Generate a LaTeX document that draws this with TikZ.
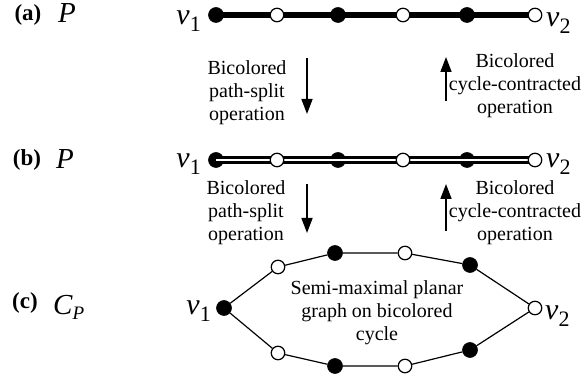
\documentclass[tikz,border=0pt]{standalone}
\usepackage{fontspec}
\setmainfont{Liberation Serif}
\usetikzlibrary{arrows.meta}
\pgfdeclarelayer{back}
\pgfdeclarelayer{mid}
\pgfsetlayers{back,mid,main}
\newcommand{\vlab}[1]{{\fontsize{30}{30}\selectfont\itshape v}\raisebox{-7pt}{\fontsize{22}{22}\selectfont #1}}
\begin{document}
\begin{tikzpicture}[x=1pt,y=-1pt,
  bn/.style={circle,fill=black,draw=black,line width=0.6pt,minimum size=15pt,inner sep=0pt},
  wn/.style={circle,fill=white,draw=black,line width=1.2pt,minimum size=13.5pt,inner sep=0pt},
  txt/.style={font=\fontsize{20}{23}\selectfont,align=center,inner sep=0pt},
  lbl/.style={font=\fontsize{23}{26}\selectfont\bfseries,inner sep=0pt},
  pl/.style={font=\fontsize{29}{30}\selectfont\itshape,inner sep=0pt},
  vl/.style={inner sep=0pt},
  thickedge/.style={line width=5.5pt},
  dbledge/.style={line width=2.6pt,double=white,double distance=2pt},
  cyc/.style={line width=1.2pt},
  oparrow/.style={line width=1.6pt,-{Triangle[length=15pt,width=11pt]}}]
\useasboundingbox (0,0) rectangle (584,379);

% ---------- (a) ----------
\node[lbl] (la) at (28,15) {(a)};
\node[pl] (pa) at (67,13.5) {P};
\node[bn] (a1) at (216,15) {};
\node[wn] (a2) at (277,15) {};
\node[bn] (a3) at (338,15) {};
\node[wn] (a4) at (403,15) {};
\node[bn] (a5) at (467,15) {};
\node[wn] (a6) at (535,15) {};
\begin{pgfonlayer}{back}
  \draw[thickedge] (a1.center) -- (a6.center);
\end{pgfonlayer}
\node[vl,anchor=base east] (va1) at (201,25) {\vlab{1}};
\node[vl,anchor=base west] (va2) at (546,27) {\vlab{2}};

\node[txt] (t1) at (247,93) {Bicolored\\path-split\\operation};
\node[txt] (t2) at (515,86) {Bicolored\\cycle-contracted\\operation};
\coordinate (d1s) at (307,58);
\coordinate (d1e) at (307,114);
\coordinate (u1s) at (446,101);
\coordinate (u1e) at (446,57);
\draw[oparrow] (d1s) -- (d1e);
\draw[oparrow] (u1s) -- (u1e);

% ---------- (b) ----------
\node[lbl] (lb) at (27,160) {(b)};
\node[pl] (pb) at (65,159) {P};
\begin{pgfonlayer}{back}
\node[bn] (b1) at (216,160) {};
\node[bn] (b3) at (338,160) {};
\node[bn] (b5) at (467,160) {};
\end{pgfonlayer}
\node[wn] (b2) at (277,160) {};
\node[wn] (b4) at (403,160) {};
\node[wn] (b6) at (535,160) {};
\begin{pgfonlayer}{mid}
  \draw[dbledge] (b1.center) -- (b6.center);
\end{pgfonlayer}
\node[vl,anchor=base east] (vb1) at (201,168) {\vlab{1}};
\node[vl,anchor=base west] (vb2) at (546,168) {\vlab{2}};

\node[txt] (t3) at (246,213) {Bicolored\\path-split\\operation};
\node[txt] (t4) at (515,213) {Bicolored\\cycle-contracted\\operation};
\coordinate (d2s) at (307,184);
\coordinate (d2e) at (307,233);
\coordinate (u2s) at (446,231);
\coordinate (u2e) at (446,184);
\draw[oparrow] (d2s) -- (d2e);
\draw[oparrow] (u2s) -- (u2e);

% ---------- (c) ----------
\node[lbl] (lc) at (25,303) {(c)};
\node[vl,anchor=base west] (cp) at (53,315) {{\fontsize{29}{30}\selectfont\itshape C}\raisebox{-5pt}{\fontsize{19}{19}\selectfont\itshape P}};
\node[bn] (c1) at (224,308) {};
\node[wn] (c2) at (278,267) {};
\node[bn] (c3) at (335,253) {};
\node[wn] (c4) at (405,253) {};
\node[bn] (c5) at (470,265) {};
\node[wn] (c6) at (535,308) {};
\node[bn] (c7) at (470,350) {};
\node[wn] (c8) at (405,366) {};
\node[bn] (c9) at (335,366) {};
\node[wn] (c10) at (278,353) {};
\draw[cyc] (c1) -- (c2) -- (c3) -- (c4) -- (c5) -- (c6) -- (c7) -- (c8) -- (c9) -- (c10) -- (c1);
\node[vl,anchor=base east] (vc1) at (211,315) {\vlab{1}};
\node[vl,anchor=base west] (vc2) at (545,320) {\vlab{2}};
\node[txt] (t5) at (377,313) {Semi-maximal planar\\graph on bicolored\\cycle};
\end{tikzpicture}
\end{document}
